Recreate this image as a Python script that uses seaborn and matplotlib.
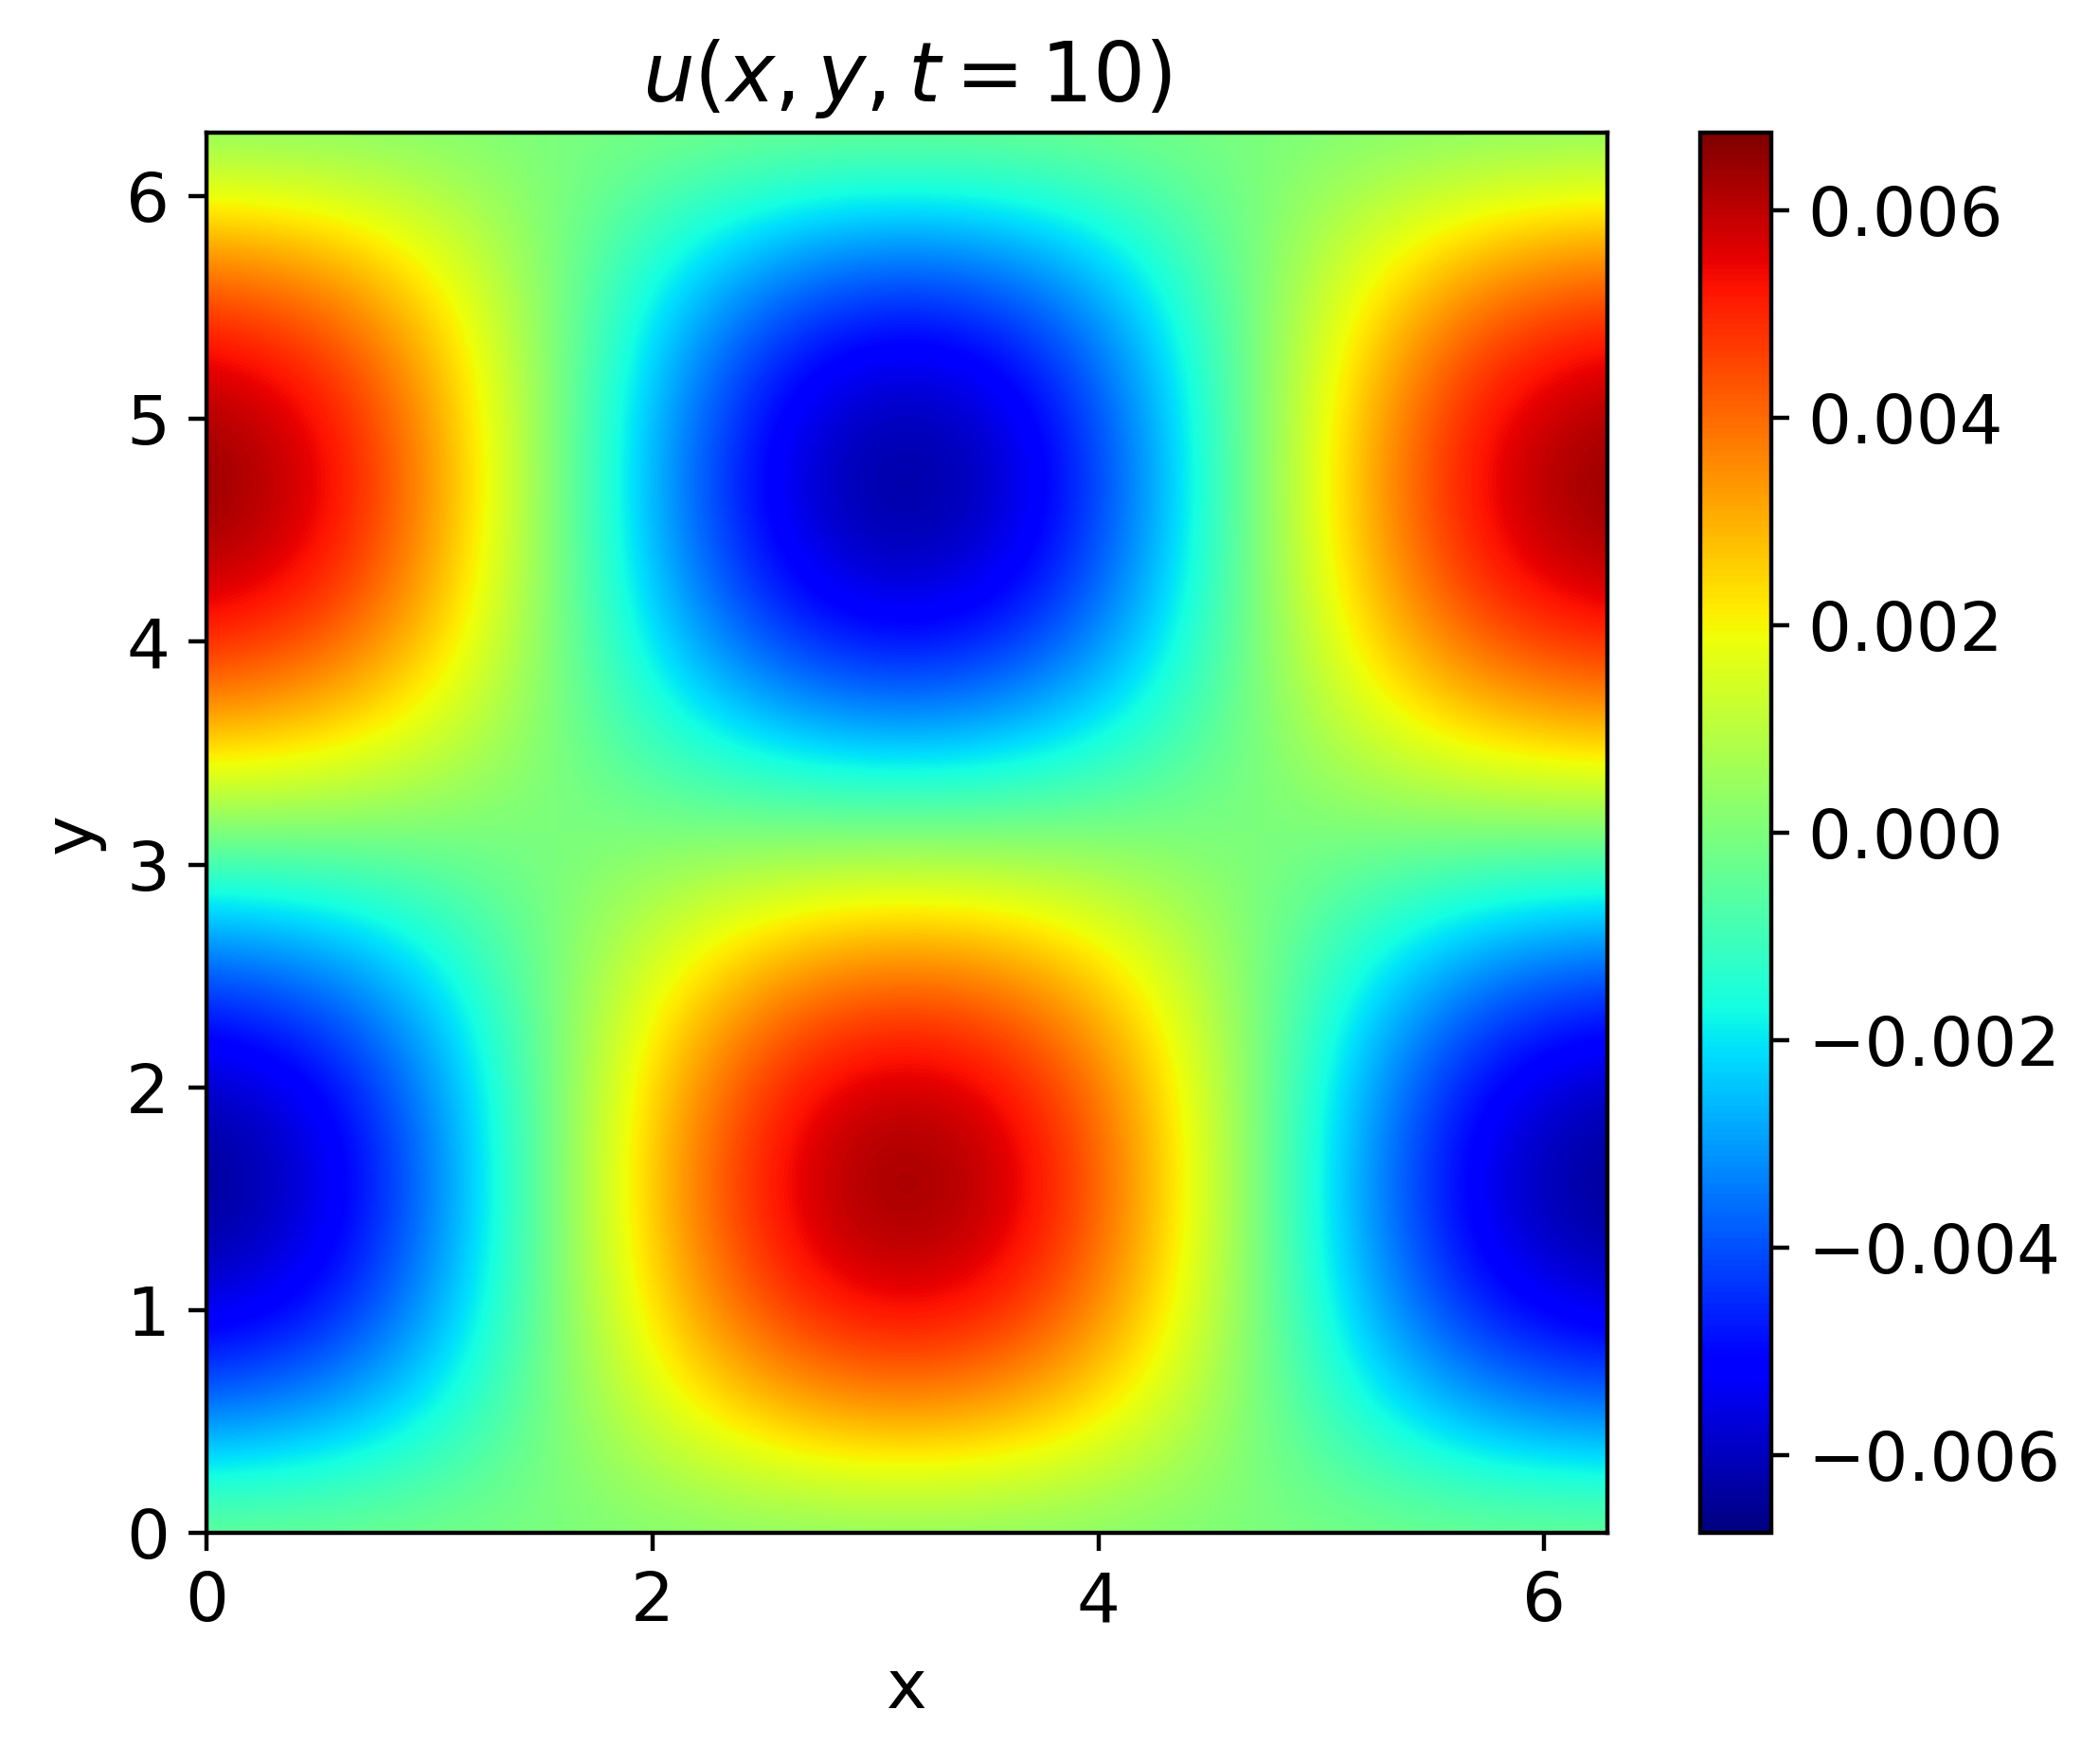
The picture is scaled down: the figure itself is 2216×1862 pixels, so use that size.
import numpy as np
import matplotlib
matplotlib.use('Agg')
import matplotlib.pyplot as plt
import seaborn as sns

# field u(x, y, t=10), every pi/6 along each axis
amplitude = 0.00675
x_nodes = [0.0, 0.524, 1.047, 1.571, 2.094, 2.618, 3.142, 3.665, 4.189, 4.712, 5.236, 5.760, 6.283]
y_nodes = [0.0, 0.524, 1.047, 1.571, 2.094, 2.618, 3.142, 3.665, 4.189, 4.712, 5.236, 5.760, 6.283]
x_shape = [1.0, 0.87, 0.5, 0.0, -0.5, -0.87, -1.0, -0.87, -0.5, 0.0, 0.5, 0.87, 1.0]
y_shape = [0.0, -0.5, -0.87, -1.0, -0.87, -0.5, 0.0, 0.5, 0.87, 1.0, 0.87, 0.5, 0.0]
x_ticks = [0, 2, 4, 6]
y_ticks = [0, 1, 2, 3, 4, 5, 6]
cbar_ticks = [-0.006, -0.004, -0.002, 0.0, 0.002, 0.004, 0.006]

field = amplitude * np.outer(y_shape, x_shape)  # rows follow y

sns.set_style('ticks', rc={
    'axes.edgecolor': 'black',
    'text.color': 'black',
    'axes.labelcolor': 'black',
    'xtick.color': 'black',
    'ytick.color': 'black',
})
plt.rcParams['font.family'] = ['DejaVu Sans']
plt.rcParams['axes.linewidth'] = 0.8
plt.rcParams['xtick.major.size'] = 3.5
plt.rcParams['ytick.major.size'] = 3.5
plt.rcParams['xtick.major.width'] = 0.8
plt.rcParams['ytick.major.width'] = 0.8

fig = plt.figure(figsize=(5.54, 4.655))
ax = fig.add_axes([0.0984, 0.1308, 0.6674, 0.7940])
cax = fig.add_axes([0.8102, 0.1308, 0.0336, 0.7940])

# half a cell of padding so that each sample sits on its node
hx = (x_nodes[1] - x_nodes[0]) / 2
hy = (y_nodes[1] - y_nodes[0]) / 2
im = ax.imshow(field, origin='lower', cmap='jet', interpolation='bicubic',
               extent=[x_nodes[0] - hx, x_nodes[-1] + hx, y_nodes[0] - hy, y_nodes[-1] + hy],
               vmin=-amplitude, vmax=amplitude, aspect='auto')
ax.set_xlim(x_nodes[0], x_nodes[-1])
ax.set_ylim(y_nodes[0], y_nodes[-1])
ax.set_xticks(x_ticks)
ax.set_yticks(y_ticks)
ax.tick_params(labelsize=13)
ax.set_xlabel('x', fontsize=13)
ax.set_ylabel('y', fontsize=13)
ax.set_title(r'$u(x,y,t=10)$', fontsize=15.6)

cb = fig.colorbar(im, cax=cax, ticks=cbar_ticks)
cb.ax.tick_params(labelsize=13)

fig.savefig('out.png', dpi=400)
